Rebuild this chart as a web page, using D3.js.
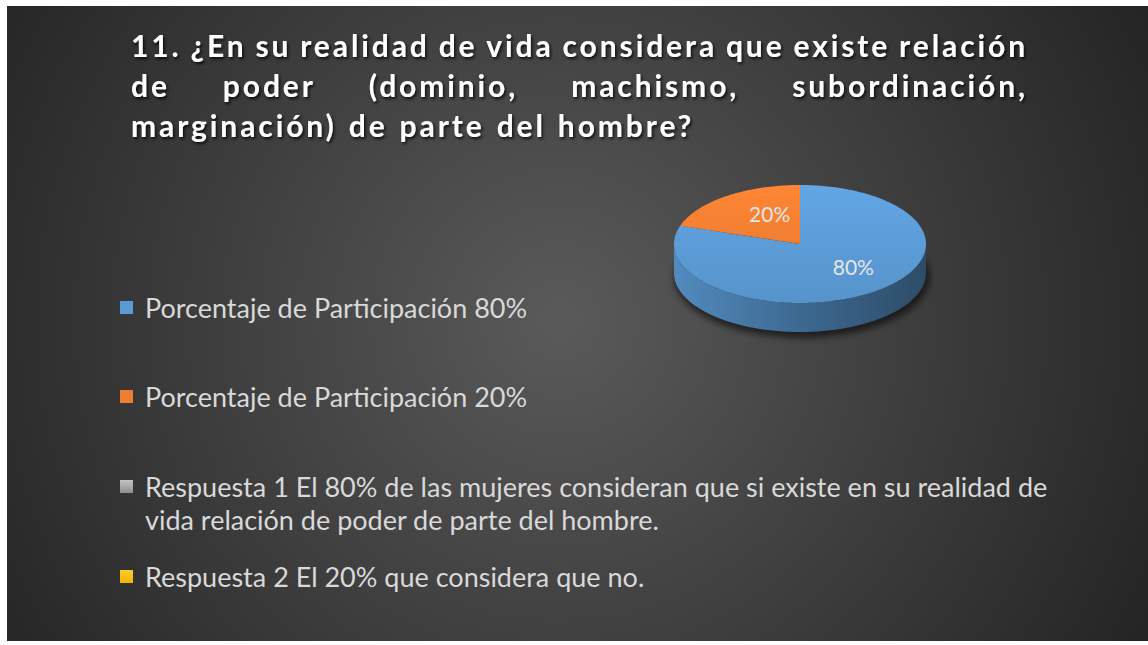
<!DOCTYPE html>
<html>
<head>
<meta charset="utf-8">
<script src="https://cdn.jsdelivr.net/npm/d3@7"></script>
<style>
  html, body { margin: 0; padding: 0; background: #fff; }
  svg { display: block; }
</style>
</head>
<body>
<svg id="chart" width="1148" height="645"></svg>
<script>
// datos del grafico
var tituloLineas = [
    "11. ¿En su realidad de vida considera que existe relación",
    "de poder (dominio, machismo, subordinación,",
    "marginación) de parte del hombre?"
];
var categorias = [
    "Porcentaje de Participación 80%",
    "Porcentaje de Participación 20%",
    "Respuesta 1 El 80% de las mujeres consideran que si existe en su realidad de vida relación de poder de parte del hombre.",
    "Respuesta 2 El 20% que considera que no."
];
var valores = [80, 20, 0, 0];
var etiquetas = ["80%", "20%", "", ""];
var colores = ["#5b9bd5", "#ed7d31", "#a5a5a5", "#ffc000"];

var svg = d3.select("#chart");
var defs = svg.append("defs");

// fondo con degradado radial
var bg = defs.append("radialGradient").attr("id", "bg")
    .attr("gradientUnits", "userSpaceOnUse")
    .attr("cx", 560).attr("cy", 320).attr("r", 680);
bg.append("stop").attr("offset", "0").attr("stop-color", "#5a5a5a");
bg.append("stop").attr("offset", "1").attr("stop-color", "#232323");

svg.append("rect").attr("x", 7).attr("y", 6).attr("width", 1141).attr("height", 635)
    .attr("fill", "url(#bg)");

var sombra = defs.append("filter").attr("id", "txtShadow")
    .attr("x", "-5%").attr("y", "-20%").attr("width", "110%").attr("height", "150%");
sombra.append("feDropShadow").attr("dx", 1.5).attr("dy", 2).attr("stdDeviation", 1.5)
    .attr("flood-color", "#000").attr("flood-opacity", 0.8);

var blur = defs.append("filter").attr("id", "pieShadow")
    .attr("x", "-20%").attr("y", "-20%").attr("width", "140%").attr("height", "160%");
blur.append("feGaussianBlur").attr("stdDeviation", 3);

// titulo justificado
var tituloX0 = 131, tituloX1 = 1028, tituloY = 57, tituloDy = 40;
var tituloG = svg.append("g").attr("filter", "url(#txtShadow)");

tituloLineas.forEach(function(linea, i) {
    var palabras = linea.split(" ");
    var y = tituloY + i * tituloDy;
    var nodos = palabras.map(function(p) {
        return tituloG.append("text")
            .attr("y", y)
            .attr("fill", "#ffffff")
            .style("font-family", "Lato, 'Open Sans', sans-serif")
            .style("font-weight", "bold")
            .style("font-size", "30px")
            .style("letter-spacing", "2.9px")
            .text(p);
    });
    var anchos = nodos.map(function(n) { return n.node().getComputedTextLength(); });
    var total = d3.sum(anchos);
    var hueco = (i < tituloLineas.length - 1)
        ? (tituloX1 - tituloX0 - total) / (palabras.length - 1)
        : 12;
    var x = tituloX0;
    nodos.forEach(function(n, k) {
        n.attr("x", x);
        x += anchos[k] + hueco;
    });
});

// leyenda
var leyendaY = [308, 397, 487, 577];
var leyendaLineas = [
    [categorias[0]],
    [categorias[1]],
    ["Respuesta 1 El 80% de las mujeres consideran que si existe en su realidad de", "vida relación de poder de parte del hombre."],
    [categorias[3]]
];

var gradCuadro = defs.append("linearGradient").attr("id", "cuadroGris")
    .attr("x1", 0).attr("y1", 0).attr("x2", 0).attr("y2", 1);
gradCuadro.append("stop").attr("offset", 0).attr("stop-color", "#c4c4c4");
gradCuadro.append("stop").attr("offset", 1).attr("stop-color", "#8e8e8e");
var gradAmarillo = defs.append("linearGradient").attr("id", "cuadroAmarillo")
    .attr("x1", 0).attr("y1", 0).attr("x2", 0).attr("y2", 1);
gradAmarillo.append("stop").attr("offset", 0).attr("stop-color", "#ffcb2e");
gradAmarillo.append("stop").attr("offset", 1).attr("stop-color", "#f2b300");

var rellenoCuadro = [colores[0], colores[1], "url(#cuadroGris)", "url(#cuadroAmarillo)"];

var leyenda = svg.append("g");
leyendaLineas.forEach(function(lineas, i) {
    var cy = leyendaY[i];
    leyenda.append("rect")
        .attr("x", 120).attr("y", cy - 7)
        .attr("width", 13).attr("height", 13)
        .attr("fill", rellenoCuadro[i]);
    lineas.forEach(function(l, k) {
        leyenda.append("text")
            .attr("x", 145).attr("y", cy + 10 + k * 33)
            .attr("fill", "#d9d9d9")
            .style("font-family", "Lato, 'Open Sans', sans-serif")
            .style("font-size", "27px")
            .text(l);
    });
});

// pastel 3D
var cx = 800, cy = 244, rx = 126, ry = 59, alto = 29;

var pie = d3.pie().sort(null).value(function(d) { return d; })
    .startAngle(0).endAngle(2 * Math.PI);
var arcos = pie(valores);

var angulo = d3.scaleLinear().domain([0, 1]);

function punto(a, f) {
    f = f || 1;
    return [cx + rx * f * Math.sin(a), cy - ry * f * Math.cos(a)];
}

function arcoElipse(a0, a1, dy) {
    var n = Math.max(2, Math.ceil((a1 - a0) / 0.02));
    angulo.range([a0, a1]);
    return d3.range(n + 1).map(function(k) {
        var p = punto(angulo(k / n));
        return [p[0], p[1] + (dy || 0)];
    });
}

var linea = d3.line();

// sombra bajo el pastel
svg.append("ellipse")
    .attr("cx", cx + 2).attr("cy", cy + alto + 4)
    .attr("rx", rx + 2).attr("ry", ry + 2)
    .attr("fill", "#000").attr("opacity", 0.55)
    .attr("filter", "url(#pieShadow)");

// lados frontales
var gradLado = [];
arcos.forEach(function(d, i) {
    var g = defs.append("linearGradient").attr("id", "lado" + i)
        .attr("gradientUnits", "userSpaceOnUse")
        .attr("x1", cx - rx).attr("y1", 0).attr("x2", cx + rx).attr("y2", 0);
    var c = d3.color(colores[i]);
    g.append("stop").attr("offset", 0).attr("stop-color", c.darker(0.3));
    g.append("stop").attr("offset", 0.5).attr("stop-color", c.darker(1.1));
    g.append("stop").attr("offset", 1).attr("stop-color", c.darker(2.0));
    gradLado.push("url(#lado" + i + ")");
});

var lados = svg.append("g");
arcos.forEach(function(d, i) {
    if (d.value === 0) return;
    var a0 = Math.max(d.startAngle, Math.PI / 2);
    var a1 = Math.min(d.endAngle, 3 * Math.PI / 2);
    if (a1 <= a0) return;
    var arriba = arcoElipse(a0, a1, 0);
    var abajo = arcoElipse(a0, a1, alto).reverse();
    lados.append("path")
        .attr("d", linea(arriba.concat(abajo)) + "Z")
        .attr("fill", gradLado[i]);
});

// caras superiores
var caras = svg.append("g");
arcos.forEach(function(d, i) {
    if (d.value === 0) return;
    var g = defs.append("linearGradient").attr("id", "cara" + i)
        .attr("gradientUnits", "userSpaceOnUse")
        .attr("x1", 0).attr("y1", cy - ry).attr("x2", 0).attr("y2", cy + ry);
    var c = d3.color(colores[i]);
    g.append("stop").attr("offset", 0).attr("stop-color", c.brighter(0.2));
    g.append("stop").attr("offset", 1).attr("stop-color", c.darker(0.15));
    var pts = [[cx, cy]].concat(arcoElipse(d.startAngle, d.endAngle, 0));
    caras.append("path")
        .attr("d", linea(pts) + "Z")
        .attr("fill", "url(#cara" + i + ")");
});

// etiquetas de datos
var factorEtiqueta = [0.68, 0.45];
arcos.forEach(function(d, i) {
    if (d.value === 0) return;
    var p = punto((d.startAngle + d.endAngle) / 2, factorEtiqueta[i]);
    svg.append("text")
        .attr("x", p[0] + 3).attr("y", p[1] - 1)
        .attr("text-anchor", "middle")
        .attr("fill", "#e6e6e6")
        .style("font-family", "Lato, 'Open Sans', sans-serif")
        .style("font-size", "21px")
        .text(etiquetas[i]);
});
</script>
</body>
</html>
